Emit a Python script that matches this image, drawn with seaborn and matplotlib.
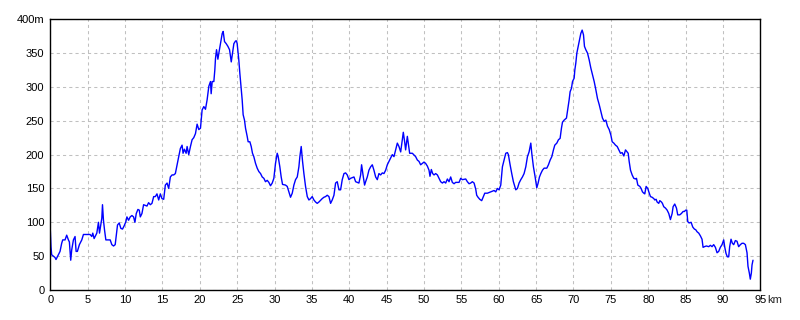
import pandas as pd
import seaborn as sns
from matplotlib import pyplot as plt

# distance (km) and elevation (m)
km = [0.00, 0.09, 0.18, 0.40, 0.63, 0.76, 0.85, 1.07, 1.30, 1.52,
      1.66, 1.97, 2.19, 2.42, 2.55, 2.73, 2.86, 3.09, 3.31, 3.45,
      3.62, 3.89, 4.21, 4.43, 4.88, 5.32, 5.55, 5.68, 5.86, 6.00,
      6.22, 6.44, 6.58, 6.80, 6.89, 6.98, 7.11, 7.25, 7.43, 7.79,
      8.01, 8.23, 8.46, 8.68, 8.81, 8.99, 9.22, 9.44, 9.66, 9.89,
      10.11, 10.25, 10.47, 10.69, 10.92, 11.14, 11.32, 11.50, 11.72, 11.90,
      12.04, 12.26, 12.48, 12.93, 13.15, 13.38, 13.60, 13.83, 14.05, 14.27,
      14.50, 14.72, 14.94, 15.17, 15.39, 15.62, 15.84, 16.06, 16.29, 16.51,
      16.73, 16.96, 17.18, 17.40, 17.63, 17.76, 17.94, 18.17, 18.30, 18.52,
      18.75, 18.97, 19.19, 19.42, 19.64, 19.87, 20.09, 20.31, 20.54, 20.76,
      20.98, 21.21, 21.43, 21.52, 21.66, 21.88, 22.01, 22.10, 22.24, 22.42,
      22.55, 22.77, 23.00, 23.13, 23.31, 23.53, 23.76, 23.98, 24.21, 24.38,
      24.56, 24.79,
      24.91, 25.00, 25.22, 25.36, 25.54, 25.67, 25.80, 25.98, 26.12, 26.34,
      26.47, 26.70, 26.88, 27.05, 27.23, 27.46, 27.68, 27.90, 28.13, 28.35,
      28.57, 28.79, 29.02, 29.24, 29.46, 29.69, 29.91, 30.13, 30.36, 30.49,
      30.71, 30.89, 31.07, 31.47, 31.70, 31.92, 32.14, 32.37, 32.59, 32.81,
      33.04, 33.26, 33.39, 33.57, 33.75, 33.93, 34.15, 34.38, 34.60, 34.82,
      35.04, 35.27, 35.49, 35.71, 35.94, 36.38, 36.61, 36.83, 37.05, 37.28,
      37.50, 37.72, 37.95, 38.17, 38.39, 38.62, 38.84, 39.06, 39.29, 39.51,
      39.73, 39.96, 40.18, 40.63, 40.85, 41.29, 41.52, 41.65, 41.88, 42.05,
      42.19, 42.41, 42.63, 42.86, 43.08, 43.30, 43.53, 43.75, 43.97, 44.20,
      44.42, 44.64, 44.87, 45.09, 45.31, 45.54, 45.76, 45.98, 46.21, 46.43,
      46.65, 46.88, 47.10, 47.23, 47.41, 47.54, 47.77, 47.90, 48.08, 48.44,
      48.88, 49.11, 49.33, 49.55, 49.78,
      50.00, 50.22, 50.45, 50.67, 50.80, 50.98, 51.16, 51.34, 51.56, 51.79,
      52.01, 52.23, 52.46, 52.68, 52.90, 53.13, 53.35, 53.57, 53.79, 54.02,
      54.24, 54.69, 54.91, 55.13, 55.58, 55.80, 56.03, 56.25, 56.47, 56.70,
      56.92, 57.05, 57.23, 57.46, 57.72, 57.95, 58.13, 58.48, 58.71, 58.93,
      59.38, 59.60, 59.82, 60.04, 60.27, 60.49, 60.71, 60.94, 61.16, 61.29,
      61.52, 61.74, 61.96, 62.28, 62.50, 62.72, 62.95, 63.17, 63.39, 63.62,
      63.84, 64.06, 64.29, 64.42, 64.64, 64.87, 65.09, 65.27, 65.45, 65.63,
      65.85, 66.07, 66.43, 66.65, 66.88, 67.10, 67.32, 67.50, 67.77, 67.99,
      68.21, 68.39, 68.53, 68.75, 69.06, 69.29, 69.42, 69.55, 69.73, 69.87,
      70.09, 70.18, 70.31, 70.45, 70.63, 70.80, 70.98, 71.16, 71.34, 71.47,
      71.65, 71.88, 72.10, 72.32, 72.54, 72.77, 72.99, 73.21, 73.44, 73.66,
      73.88, 74.11, 74.33, 74.55, 74.78, 75.00,
      75.18, 75.40, 75.62, 75.85, 76.07, 76.29, 76.51, 76.74, 76.96, 77.18,
      77.32, 77.45, 77.63, 77.85, 78.07, 78.30, 78.43, 78.61, 78.88, 79.05,
      79.23, 79.41, 79.54, 79.72, 79.94, 80.08, 80.30, 80.52, 80.75, 80.88,
      81.06, 81.19, 81.41, 81.55, 81.77, 81.90, 82.08, 82.31, 82.53, 82.75,
      82.97, 83.20, 83.33, 83.55, 83.78, 83.95, 84.22, 84.44, 84.67, 84.84,
      85.02, 85.16, 85.29, 85.47, 85.74, 85.96, 86.18, 86.36, 86.54, 86.76,
      86.98, 87.20, 87.34, 87.52, 87.78, 88.10, 88.32, 88.54, 88.76, 88.99,
      89.21, 89.43, 89.65, 89.88, 90.10, 90.23, 90.41, 90.59, 90.77, 90.90,
      91.08, 91.26, 91.44, 91.66, 91.88, 92.10, 92.33, 92.55, 92.77, 93.00,
      93.22, 93.35, 93.53, 93.66, 93.80, 93.89, 94.02]

elevation = [88, 64, 52, 50, 48, 45, 47, 52, 57, 69,
             74, 74, 81, 74, 71, 44, 59, 74, 79, 57,
             57, 67, 74, 82, 82, 82, 79, 84, 76, 79,
             84, 100, 84, 100, 106, 126, 103, 89, 74, 74,
             74, 67, 65, 67, 79, 96, 99, 91, 90, 95,
             101, 108, 103, 108, 110, 108, 100, 113, 119, 118,
             108, 113, 126, 124, 129, 126, 128, 138, 138, 142,
             133, 142, 135, 134, 155, 158, 150, 167, 170, 170,
             172, 185, 197, 209, 214, 202, 208, 202, 212, 200,
             212, 222, 225, 231, 245, 237, 239, 266, 271, 267,
             281, 301, 308, 290, 308, 308, 325, 342, 355, 341,
             350, 364, 379, 382, 367, 364, 360, 355, 337, 350,
             364, 368,
             368, 364, 340, 320, 298, 281, 259, 251, 239, 227,
             219, 219, 212, 202, 197, 187, 180, 175, 172, 167,
             165, 160, 162, 159, 154, 158, 165, 187, 202, 197,
             182, 167, 156, 155, 153, 145, 137, 143, 155, 163,
             167, 182, 197, 212, 190, 172, 153, 138, 133, 135,
             138, 133, 130, 128, 130, 135, 137, 138, 140, 138,
             128, 133, 140, 158, 160, 148, 148, 163, 172, 173,
             170, 163, 165, 167, 160, 158, 170, 185, 167, 155,
             160, 167, 177, 182, 185, 177, 167, 163, 172, 170,
             173, 172, 177, 185, 190, 195, 200, 197, 207, 217,
             212, 204, 222, 233, 219, 207, 227, 217, 202, 202,
             197, 192, 190, 185, 187,
             189, 187, 183, 177, 168, 178, 172, 170, 172, 170,
             165, 160, 158, 160, 158, 164, 160, 167, 159, 157,
             159, 159, 165, 163, 164, 160, 157, 158, 160, 158,
             149, 140, 137, 134, 132, 138, 143, 143, 144, 145,
             147, 145, 150, 148, 155, 182, 192, 202, 203, 200,
             185, 172, 160, 148, 150, 158, 163, 167, 172, 182,
             197, 204, 217, 202, 182, 167, 151, 158, 167, 172,
             177, 180, 180, 185, 192, 197, 207, 214, 217, 222,
             224, 239, 248, 251, 254, 271, 281, 293, 298, 308,
             313, 325, 335, 350, 360, 369, 379, 384, 377, 360,
             355, 350, 340, 328, 318, 308, 296, 283, 274, 264,
             254, 249, 251, 242, 237, 229,
             219, 217, 214, 212, 207, 202, 203, 198, 207, 204,
             202, 190, 177, 170, 165, 164, 165, 155, 153, 150,
             145, 143, 142, 153, 150, 145, 138, 137, 135, 133,
             134, 130, 128, 132, 130, 128, 123, 121, 118, 113,
             104, 113, 123, 127, 121, 111, 111, 113, 116, 116,
             118, 118, 101, 99, 100, 93, 90, 89, 86, 84,
             80, 75, 63, 64, 65, 64, 66, 64, 67, 63,
             55, 57, 63, 67, 74, 64, 54, 49, 49, 64,
             75, 69, 67, 73, 72, 64, 67, 69, 69, 67,
             55, 35, 25, 16, 25, 37, 44]

x_ticks = list(range(0, 96, 5))
x_labels = [str(t) for t in x_ticks]
y_ticks = list(range(0, 401, 50))
y_labels = [str(t) for t in y_ticks[:-1]] + ['400m']

profile = pd.DataFrame({'km': km, 'elev': elevation})

sns.set_style('white')
plt.rcParams['font.family'] = ['Liberation Sans', 'DejaVu Sans']

fig = plt.figure(figsize=(8, 3.2), dpi=100)
ax = fig.add_axes([0.0629, 0.0938, 0.8875, 0.846])

sns.lineplot(data=profile, x='km', y='elev', color='#0000ff', linewidth=1.0,
             estimator=None, sort=False, ax=ax)

ax.set_xlim(0, 95)
ax.set_ylim(0, 400)
ax.set_xticks(x_ticks)
ax.set_xticklabels(x_labels)
ax.set_yticks(y_ticks)
ax.set_yticklabels(y_labels)
ax.set_xlabel('')
ax.set_ylabel('')
ax.tick_params(axis='both', length=0, labelsize=8, colors='black')
ax.tick_params(axis='x', pad=3.6)
ax.tick_params(axis='y', pad=4.3)
ax.grid(True, color='#c0c0c0', linestyle=(0, (3, 3)), linewidth=0.75)
for sp in ax.spines.values():
    sp.set_color('black')
    sp.set_linewidth(1.0)

# unit after the last x tick label
ax.annotate('km', xy=(95, 0), xycoords=('data', 'axes fraction'),
            xytext=(4.8, -3.6), textcoords='offset points',
            ha='left', va='top', fontsize=8)

fig.savefig('out.png', dpi=100, facecolor='white')
